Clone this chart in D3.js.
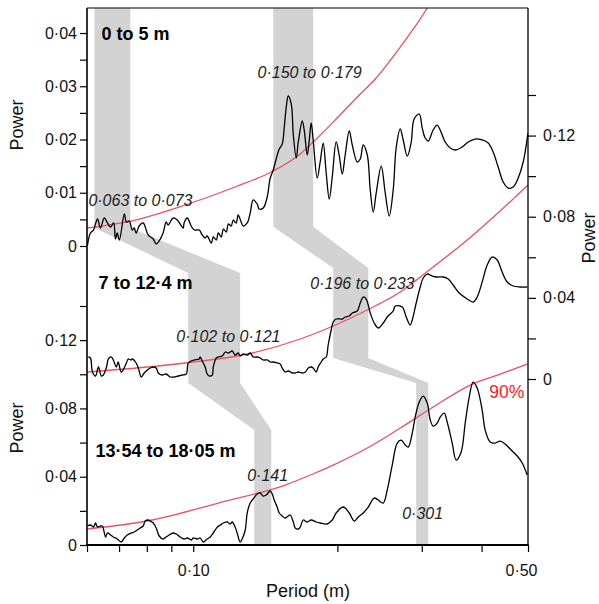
<!DOCTYPE html>
<html><head><meta charset="utf-8">
<script src="https://cdn.jsdelivr.net/npm/d3@7"></script>
<style>
body{margin:0;background:#fff}
svg{display:block}
text{font-family:"Liberation Sans",Arial,Helvetica,sans-serif}
</style>
</head><body>
<svg id="chart" width="599" height="604"></svg>
<script>
// ---------- DATA (period in m, power) ----------
const spectrum0to5 = [[0.0601,0.0000],[0.0610,0.00244],[0.0619,0.00300],[0.0631,0.00507],[0.0640,0.00338],[0.0652,0.00526],[0.0662,0.00432],[0.0672,0.00357],[0.0682,0.00432],[0.0688,0.00131],[0.0694,0.00244],[0.0701,0.00113],[0.0718,0.00601],[0.0725,0.00451],[0.0735,0.00470],[0.0746,0.00300],[0.0753,0.00338],[0.0760,0.00244],[0.0771,0.00376],[0.0786,0.00432],[0.0794,0.00357],[0.0805,0.00207],[0.0825,0.00131],[0.0837,0.00038],[0.0849,0.00094],[0.0865,0.00244],[0.0878,0.00451],[0.0886,0.00394],[0.0908,0.00526],[0.0926,0.00488],[0.0939,0.00413],[0.0953,0.00338],[0.0957,0.00432],[0.0972,0.00526],[0.0990,0.00376],[0.1005,0.00300],[0.1029,0.00300],[0.1044,0.00207],[0.1059,0.00150],[0.1069,0.00188],[0.1091,0.00056],[0.1101,0.00169],[0.1117,0.00113],[0.1128,0.00244],[0.1144,0.00169],[0.1156,0.00319],[0.1172,0.00263],[0.1184,0.00413],[0.1200,0.00376],[0.1212,0.00488],[0.1229,0.00432],[0.1241,0.00582],[0.1259,0.00451],[0.1271,0.00376],[0.1296,0.00432],[0.1315,0.00620],[0.1334,0.00864],[0.1360,0.00789],[0.1373,0.00695],[0.1400,0.00714],[0.1427,0.00920],[0.1448,0.01277],[0.1469,0.01427],[0.1490,0.01634],[0.1512,0.01822],[0.1534,0.01916],[0.1549,0.02235],[0.1564,0.02610],[0.1579,0.02817],[0.1602,0.02667],[0.1618,0.02085],[0.1641,0.01653],[0.1657,0.01953],[0.1689,0.02348],[0.1705,0.02178],[0.1730,0.01709],[0.1747,0.01991],[0.1763,0.02310],[0.1780,0.01991],[0.1815,0.01277],[0.1841,0.01578],[0.1868,0.01934],[0.1895,0.01371],[0.1923,0.00883],[0.1951,0.01296],[0.1988,0.01953],[0.2017,0.01709],[0.2047,0.01352],[0.2076,0.01709],[0.2117,0.02160],[0.2148,0.01897],[0.2200,0.01578],[0.2232,0.01634],[0.2264,0.01897],[0.2309,0.01709],[0.2342,0.01052],[0.2376,0.00639],[0.2410,0.00995],[0.2469,0.01502],[0.2517,0.00995],[0.2566,0.00563],[0.2615,0.01052],[0.2654,0.01859],[0.2705,0.02197],[0.2744,0.01991],[0.2798,0.01690],[0.2852,0.01953],[0.2892,0.02385],[0.2964,0.02479],[0.3007,0.02216],[0.3050,0.02028],[0.3095,0.01972],[0.3169,0.02178],[0.3231,0.02272],[0.3278,0.02178],[0.3358,0.01953],[0.3440,0.01840],[0.3523,0.01803],[0.3644,0.01859],[0.3750,0.01953],[0.3878,0.02009],[0.4011,0.01991],[0.4129,0.01934],[0.4229,0.01765],[0.4332,0.01484],[0.4438,0.01202],[0.4545,0.01089],[0.4657,0.01108],[0.4770,0.01277],[0.4886,0.01578],[0.5000,0.02122]];

const spectrum7to12 = [[0.0604,0.01084],[0.0610,0.01035],[0.0616,0.00345],[0.0625,0.00148],[0.0634,0.00591],[0.0643,0.00148],[0.0649,0.00197],[0.0659,0.00591],[0.0665,0.00986],[0.0675,0.01084],[0.0681,0.00937],[0.0691,0.00591],[0.0697,0.00838],[0.0707,0.00345],[0.0714,0.00444],[0.0725,0.00789],[0.0732,0.00986],[0.0742,0.00937],[0.0746,0.00986],[0.0760,0.00789],[0.0768,0.00542],[0.0779,0.00099],[0.0790,0.00296],[0.0802,0.00444],[0.0813,0.00542],[0.0825,0.00591],[0.0837,0.00542],[0.0845,0.00296],[0.0861,0.00197],[0.0878,0.00246],[0.0895,0.00099],[0.0912,0.00099],[0.0930,0.00148],[0.0948,0.00197],[0.0967,0.00246],[0.0976,0.00789],[0.0990,0.00887],[0.1005,0.00937],[0.1029,0.00986],[0.1034,0.01084],[0.1044,0.00887],[0.1059,0.00591],[0.1069,0.00246],[0.1080,0.00148],[0.1096,0.00197],[0.1101,0.00591],[0.1117,0.01035],[0.1128,0.01084],[0.1150,0.01134],[0.1167,0.01331],[0.1184,0.01282],[0.1206,0.01380],[0.1223,0.01183],[0.1241,0.01282],[0.1253,0.01134],[0.1271,0.01232],[0.1296,0.01183],[0.1315,0.01282],[0.1334,0.01084],[0.1360,0.01084],[0.1380,0.01035],[0.1400,0.00937],[0.1427,0.00937],[0.1448,0.00838],[0.1469,0.00838],[0.1497,0.00789],[0.1519,0.00739],[0.1534,0.00542],[0.1556,0.00345],[0.1579,0.00394],[0.1610,0.00296],[0.1633,0.00296],[0.1657,0.00345],[0.1689,0.00296],[0.1714,0.00345],[0.1739,0.00542],[0.1764,0.00591],[0.1780,0.00542],[0.1806,0.00345],[0.1823,0.00591],[0.1850,0.00838],[0.1868,0.00986],[0.1895,0.01084],[0.1913,0.01676],[0.1941,0.02415],[0.1960,0.02810],[0.1988,0.02957],[0.2047,0.02957],[0.2076,0.03056],[0.2117,0.03105],[0.2148,0.03253],[0.2200,0.03352],[0.2232,0.03746],[0.2264,0.04042],[0.2297,0.03943],[0.2342,0.03253],[0.2387,0.02760],[0.2434,0.02514],[0.2493,0.02760],[0.2541,0.03056],[0.2615,0.03352],[0.2641,0.03598],[0.2731,0.03549],[0.2784,0.03056],[0.2838,0.02662],[0.2866,0.02908],[0.2921,0.03746],[0.2978,0.04535],[0.3021,0.04978],[0.3080,0.05175],[0.3155,0.05077],[0.3231,0.05028],[0.3326,0.05028],[0.3407,0.04929],[0.3490,0.04633],[0.3592,0.04239],[0.3733,0.03943],[0.3841,0.03795],[0.3916,0.04042],[0.4011,0.04781],[0.4109,0.05619],[0.4209,0.06013],[0.4311,0.05866],[0.4416,0.05274],[0.4524,0.04781],[0.4657,0.04584],[0.4816,0.04535],[0.4981,0.04535]];

const spectrum13to18 = [[0.0601,0.01112],[0.0610,0.01171],[0.0619,0.01054],[0.0625,0.01288],[0.0631,0.01054],[0.0640,0.01112],[0.0646,0.01112],[0.0656,0.00468],[0.0662,0.00703],[0.0672,0.00586],[0.0681,0.00468],[0.0694,0.00351],[0.0707,0.00176],[0.0718,0.00410],[0.0728,0.00586],[0.0742,0.00703],[0.0753,0.00761],[0.0764,0.00878],[0.0775,0.00995],[0.0786,0.01112],[0.0794,0.01405],[0.0805,0.01464],[0.0813,0.01405],[0.0825,0.01288],[0.0837,0.00995],[0.0849,0.00527],[0.0865,0.00351],[0.0878,0.00468],[0.0891,0.00586],[0.0908,0.00703],[0.0921,0.00644],[0.0939,0.00468],[0.0957,0.00351],[0.0972,0.00410],[0.0990,0.00293],[0.1000,0.00410],[0.1019,0.00351],[0.1034,0.00410],[0.1049,0.00176],[0.1069,0.00351],[0.1085,0.00468],[0.1101,0.00703],[0.1123,0.01054],[0.1139,0.01171],[0.1156,0.01288],[0.1178,0.01347],[0.1195,0.01230],[0.1206,0.01347],[0.1223,0.01054],[0.1235,0.00703],[0.1253,0.00176],[0.1265,0.00351],[0.1284,0.00878],[0.1296,0.01874],[0.1315,0.02459],[0.1334,0.02694],[0.1360,0.02986],[0.1380,0.03045],[0.1400,0.02869],[0.1420,0.02928],[0.1448,0.03162],[0.1462,0.02986],[0.1476,0.02635],[0.1497,0.02225],[0.1512,0.01874],[0.1534,0.01698],[0.1556,0.01581],[0.1579,0.01698],[0.1594,0.01757],[0.1618,0.01347],[0.1633,0.00995],[0.1657,0.00937],[0.1673,0.01054],[0.1697,0.01464],[0.1730,0.01347],[0.1763,0.01464],[0.1806,0.01347],[0.1841,0.01288],[0.1904,0.01230],[0.1951,0.01464],[0.1988,0.01874],[0.2056,0.02225],[0.2117,0.01874],[0.2169,0.01405],[0.2211,0.01640],[0.2264,0.01874],[0.2320,0.02225],[0.2387,0.02752],[0.2434,0.02635],[0.2493,0.02459],[0.2541,0.03220],[0.2603,0.04684],[0.2666,0.05972],[0.2718,0.06148],[0.2771,0.05855],[0.2811,0.05738],[0.2866,0.06558],[0.2907,0.07494],[0.2964,0.08373],[0.3021,0.08724],[0.3080,0.08314],[0.3125,0.07319],[0.3169,0.06967],[0.3231,0.07143],[0.3278,0.07494],[0.3342,0.07729],[0.3390,0.07202],[0.3473,0.05972],[0.3540,0.04977],[0.3626,0.05445],[0.3697,0.07143],[0.3769,0.08665],[0.3841,0.09544],[0.3916,0.09192],[0.4011,0.07904],[0.4070,0.06733],[0.4169,0.06031],[0.4270,0.05972],[0.4374,0.06089],[0.4481,0.05914],[0.4590,0.05621],[0.4747,0.05211],[0.4863,0.04801],[0.4981,0.04099]];

// 90% confidence (red-noise) curves
const conf0to5   = [[0.0601,0.00338],[0.0757,0.00488],[0.0962,0.00770],[0.1223,0.01108],[0.1469,0.01409],[0.1673,0.01728],[0.1780,0.01953],[0.1988,0.02385],[0.2232,0.02855],[0.2399,0.03136],[0.2705,0.03737],[0.3080,0.04470],[0.3200,0.04733]];
const conf7to12  = [[0.0601,0.00345],[0.0962,0.00789],[0.1328,0.01282],[0.1673,0.01972],[0.1960,0.02612],[0.2309,0.03401],[0.2705,0.04288],[0.3169,0.05520],[0.3733,0.06851],[0.4169,0.07837],[0.5004,0.09562]];
const conf13to18 = [[0.0601,0.00937],[0.0821,0.01464],[0.1128,0.02459],[0.1556,0.03513],[0.1797,0.04216],[0.1960,0.04684],[0.2309,0.05679],[0.2705,0.06850],[0.3169,0.08080],[0.3787,0.09368],[0.4374,0.10012],[0.4981,0.10598]];

// shaded period bands [lo, hi] per panel (top, middle, bottom)
const bandA = [[0.0622,0.0739],[0.0976,0.1253],[0.1341,0.1455]];
const bandB = [[0.1469,0.1780],[0.1960,0.2320],[0.2921,0.3095]];
// power levels where each band changes panel: [top end, mid start, mid end, bottom start]
const bandALevels = [0.0034, 0.0522, -0.0020, 0.0673];
const bandBLevels = [0.0036, 0.0547, 0.0104, 0.0949];

const panelTitles = ["0 to 5 m", "7 to 12·4 m", "13·54 to 18·05 m"];
const peakLabels = ["0·063 to 0·073", "0·150 to 0·179", "0·102 to 0·121", "0·196 to 0·233", "0·141", "0·301"];

const xTicks = [0.06,0.07,0.08,0.09,0.1,0.2,0.3,0.4,0.5];
const xTickLabels = {"0.1":"0·10","0.5":"0·50"};
const topTicks = [0,0.005,0.01,0.015,0.02,0.025,0.03,0.035,0.04];
const topTickLabels = ["0","0·01","0·02","0·03","0·04"];
const lowTicks = [0,0.02,0.04,0.06,0.08,0.10,0.12,0.14];
const lowTickLabels = ["0","0·04","0·08","0·12"];

// ---------- LAYOUT ----------
const svg = d3.select("#chart");
const P = {left:87, right:528, top:8, bottom:545};
const x = d3.scaleLog().domain([0.06,0.5]).range([P.left,P.right]);
const yTop = d3.scaleLinear().domain([0,0.0447]).range([246,P.top]);
const yMid = d3.scaleLinear().domain([0,0.14]).range([379,95]);
const yBot = d3.scaleLinear().domain([0,0.14]).range([P.bottom,306]);

const RED = "#ea5262";
const GRAY = "#d3d3d3";

svg.append("defs").append("clipPath").attr("id","plotclip")
  .append("rect").attr("x",P.left).attr("y",P.top)
  .attr("width",P.right-P.left).attr("height",P.bottom-P.top);

const plot = svg.append("g").attr("clip-path","url(#plotclip)");

// bands
function bandPoly(b, lv){
  const pts = [
    [x(b[0][0]), P.top],[x(b[0][0]), yTop(lv[0])],
    [x(b[1][0]), yMid(lv[1])],[x(b[1][0]), yMid(lv[2])],
    [x(b[2][0]), yBot(lv[3])],[x(b[2][0]), P.bottom],
    [x(b[2][1]), P.bottom],[x(b[2][1]), yBot(lv[3])],
    [x(b[1][1]), yMid(lv[2])],[x(b[1][1]), yMid(lv[1])],
    [x(b[0][1]), yTop(lv[0])],[x(b[0][1]), P.top]
  ];
  return pts.map(p=>p.join(",")).join(" ");
}
plot.append("polygon").attr("points",bandPoly(bandA,bandALevels)).attr("fill",GRAY);
plot.append("polygon").attr("points",bandPoly(bandB,bandBLevels)).attr("fill",GRAY);

// red confidence lines
const redLine = ys => d3.line().x(d=>x(d[0])).y(d=>ys(d[1])).curve(d3.curveMonotoneX);
[[conf0to5,yTop],[conf7to12,yMid],[conf13to18,yBot]].forEach(([d,ys])=>{
  plot.append("path").attr("d",redLine(ys)(d)).attr("fill","none")
    .attr("stroke",RED).attr("stroke-width",1.3);
});

// spectra
const specLine = ys => d3.line().x(d=>x(d[0])).y(d=>ys(d[1])).curve(d3.curveCatmullRom.alpha(0.5));
[[spectrum0to5,yTop],[spectrum7to12,yMid],[spectrum13to18,yBot]].forEach(([d,ys])=>{
  plot.append("path").attr("d",specLine(ys)(d)).attr("fill","none")
    .attr("stroke","#000").attr("stroke-width",1.3).attr("stroke-linejoin","round");
});

// frame lines
const frame = svg.append("g").attr("stroke","#000").attr("fill","none");
frame.append("line").attr("x1",P.left).attr("x2",P.right).attr("y1",P.top).attr("y2",P.top).attr("stroke-width",1.2);
frame.append("line").attr("x1",P.right).attr("x2",P.right).attr("y1",P.top).attr("y2",P.bottom).attr("stroke-width",1.3);
frame.append("line").attr("x1",P.left).attr("x2",P.left).attr("y1",P.top).attr("y2",P.bottom).attr("stroke-width",1.6);
frame.append("line").attr("x1",P.left-0.8).attr("x2",P.right+0.6).attr("y1",P.bottom).attr("y2",P.bottom).attr("stroke-width",2);

function styleAxis(g, fs){
  g.select(".domain").remove();
  g.selectAll(".tick line").attr("stroke","#000").attr("stroke-width",1.2);
  g.selectAll(".tick text").attr("fill","#111").attr("font-size",fs)
    .attr("font-family",'"Liberation Sans",Arial,sans-serif');
  g.attr("font-family",null);
}

// left top axis
const gTop = svg.append("g").attr("transform",`translate(${P.left},0)`)
  .call(d3.axisLeft(yTop).tickValues(topTicks).tickSize(7).tickPadding(3)
    .tickFormat((d,i)=> i%2===0 ? topTickLabels[i/2] : ""));
styleAxis(gTop,"16px");

// left bottom axis
const gBot = svg.append("g").attr("transform",`translate(${P.left},0)`)
  .call(d3.axisLeft(yBot).tickValues(lowTicks).tickSize(7).tickPadding(3)
    .tickFormat((d,i)=> i%2===0 ? lowTickLabels[i/2] : ""));
styleAxis(gBot,"16px");

// right axis (middle panel)
const gRight = svg.append("g").attr("transform",`translate(${P.right},0)`)
  .call(d3.axisRight(yMid).tickValues(lowTicks).tickSize(8).tickPadding(7)
    .tickFormat((d,i)=> i%2===0 ? lowTickLabels[i/2] : ""));
styleAxis(gRight,"16px");

// bottom axis
const gX = svg.append("g").attr("transform",`translate(0,${P.bottom})`)
  .call(d3.axisBottom(x).tickValues(xTicks).tickSize(7).tickPadding(13)
    .tickFormat(d=> xTickLabels[String(d)] || ""));
styleAxis(gX,"16px");
gX.selectAll(".tick text").filter(d=>d===0.5).attr("dx",-7);

// axis titles
const tfs = "18px";
svg.append("text").attr("transform","translate(23,125) rotate(-90)")
  .attr("text-anchor","middle").attr("font-size",tfs).attr("fill","#111").text("Power");
svg.append("text").attr("transform","translate(23,428) rotate(-90)")
  .attr("text-anchor","middle").attr("font-size",tfs).attr("fill","#111").text("Power");
svg.append("text").attr("transform","translate(595,238) rotate(-90)")
  .attr("text-anchor","middle").attr("font-size",tfs).attr("fill","#111").text("Power");
svg.append("text").attr("x",(P.left+P.right)/2 + 0.5).attr("y",597)
  .attr("text-anchor","middle").attr("font-size",tfs).attr("fill","#111").text("Period (m)");

// panel titles
const ann = svg.append("g");
ann.append("text").attr("x",x(0.0643)).attr("y",yTop(0.0387))
  .attr("font-size","18px").attr("font-weight","bold").text(panelTitles[0]);
ann.append("text").attr("x",x(0.0634)).attr("y",yMid(0.04436))
  .attr("font-size","18px").attr("font-weight","bold").text(panelTitles[1]);
ann.append("text").attr("x",x(0.0625)).attr("y",yBot(0.05152))
  .attr("font-size","18px").attr("font-weight","bold").text(panelTitles[2]);

// peak labels
const it = (px,py,t)=> ann.append("text").attr("x",px).attr("y",py)
  .attr("font-size","16px").attr("font-style","italic").attr("fill","#222").text(t);
it(x(0.0604), yTop(0.00751), peakLabels[0]);
it(x(0.1362), yTop(0.03155), peakLabels[1]);
it(x(0.0922), yMid(0.01824), peakLabels[2]);
it(x(0.1756), yMid(0.04436), peakLabels[3]);
it(x(0.1296), yBot(0.03747), peakLabels[4]);
it(x(0.2731), yBot(0.01522), peakLabels[5]);

ann.append("text").attr("x",x(0.4150)).attr("y",yBot(0.08607))
  .attr("font-size","17.5px").attr("fill","#ff1a1a").text("90%");
</script>
</body></html>
